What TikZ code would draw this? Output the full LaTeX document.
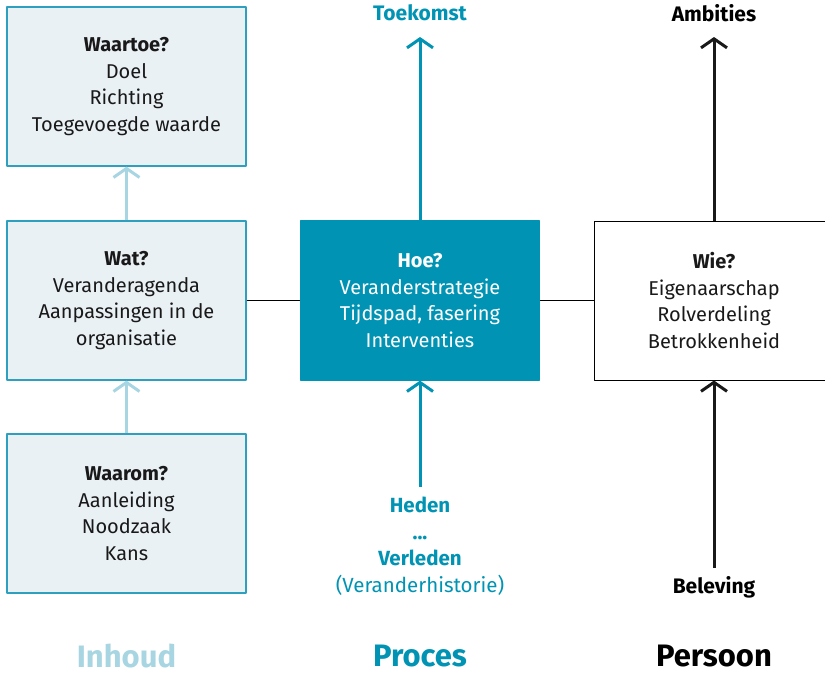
\documentclass[tikz,border=0pt]{standalone}
\usepackage{fontspec}
\setmainfont{Fira Sans}
\usetikzlibrary{arrows.meta}
\definecolor{teal}{HTML}{0093B3}
\definecolor{lichtblauw}{HTML}{A8D5E2}
\definecolor{vlak}{HTML}{EAF1F5}
\definecolor{rand}{HTML}{2CA0BE}
\tikzset{
	vak/.style={draw=rand, fill=vlak, line width=1.2pt, minimum width=239pt, minimum height=159pt, align=center, text=black!90},
	pijl/.style={line width=3pt, -{Straight Barb[length=9pt,width=26pt,line width=3pt]}},
	label/.style={font=\bfseries\fontsize{21}{24}\selectfont, align=center},
	kolom/.style={font=\bfseries\fontsize{31}{34}\selectfont, inner sep=0pt}
}
\begin{document}
\begin{tikzpicture}[x=1pt, y=-1pt, font=\fontsize{20}{26.5}\selectfont, line join=round]
	\useasboundingbox (0,0) rectangle (825,675);
	\clip (0,0) rectangle (825,675);
	% inhoud
	\node[vak] (waartoe) at (126.5,86.5) {\textbf{Waartoe?}\\Doel\\Richting\\Toegevoegde waarde};
	\node[vak] (wat) at (126.5,300.5) {\textbf{Wat?}\\Veranderagenda\\Aanpassingen in de\\organisatie};
	\node[vak] (waarom) at (126.5,513.5) {\textbf{Waarom?}\\Aanleiding\\Noodzaak\\Kans};
	% proces
	\node[vak, draw=teal, fill=teal, text=white] (hoe) at (420,300.5) {\textbf{Hoe?}\\Veranderstrategie\\Tijdspad, fasering\\Interventies};
	% persoon
	\node[vak, draw=black, fill=white, line width=1pt, minimum width=240pt] (wie) at (714,300.5) {\textbf{Wie?}\\Eigenaarschap\\Rolverdeling\\Betrokkenheid};
	% labels
	\node[label, text=teal] (toekomst) at (420,13) {Toekomst};
	\node[label, text=teal, font=\fontsize{20.5}{26.5}\selectfont] (heden) at (420,546) {\textbf{Heden}\\\textbf{...}\\\textbf{Verleden}\\(Veranderhistorie)};
	\node[label] (ambities) at (714,13) {Ambities};
	\node[label] (beleving) at (714,587) {Beleving};
	\coordinate (proces0) at (420,37);
	\coordinate (proces1) at (420,487);
	\coordinate (persoon0) at (714,37);
	\coordinate (persoon1) at (714,568);
	% verbindingen
	\draw[line width=1pt] (wat.east) -- (hoe.west);
	\draw[line width=1pt] (hoe.east) -- (wie.west);
	\draw[pijl, lichtblauw] (wat.north) -- (waartoe.south);
	\draw[pijl, lichtblauw] (waarom.north) -- (wat.south);
	\draw[pijl, teal] (hoe.north) -- (proces0);
	\draw[pijl, teal] (proces1) -- (hoe.south);
	\draw[pijl, black!90] (wie.north) -- (persoon0);
	\draw[pijl, black!90] (persoon1) -- (wie.south);
	% kolommen
	\node[kolom, text=lichtblauw] (inhoud) at (126.5,656) {Inhoud};
	\node[kolom, text=teal] (proces) at (420,656) {Proces};
	\node[kolom, text=black] (persoon) at (714,656) {Persoon};
\end{tikzpicture}
\end{document}
